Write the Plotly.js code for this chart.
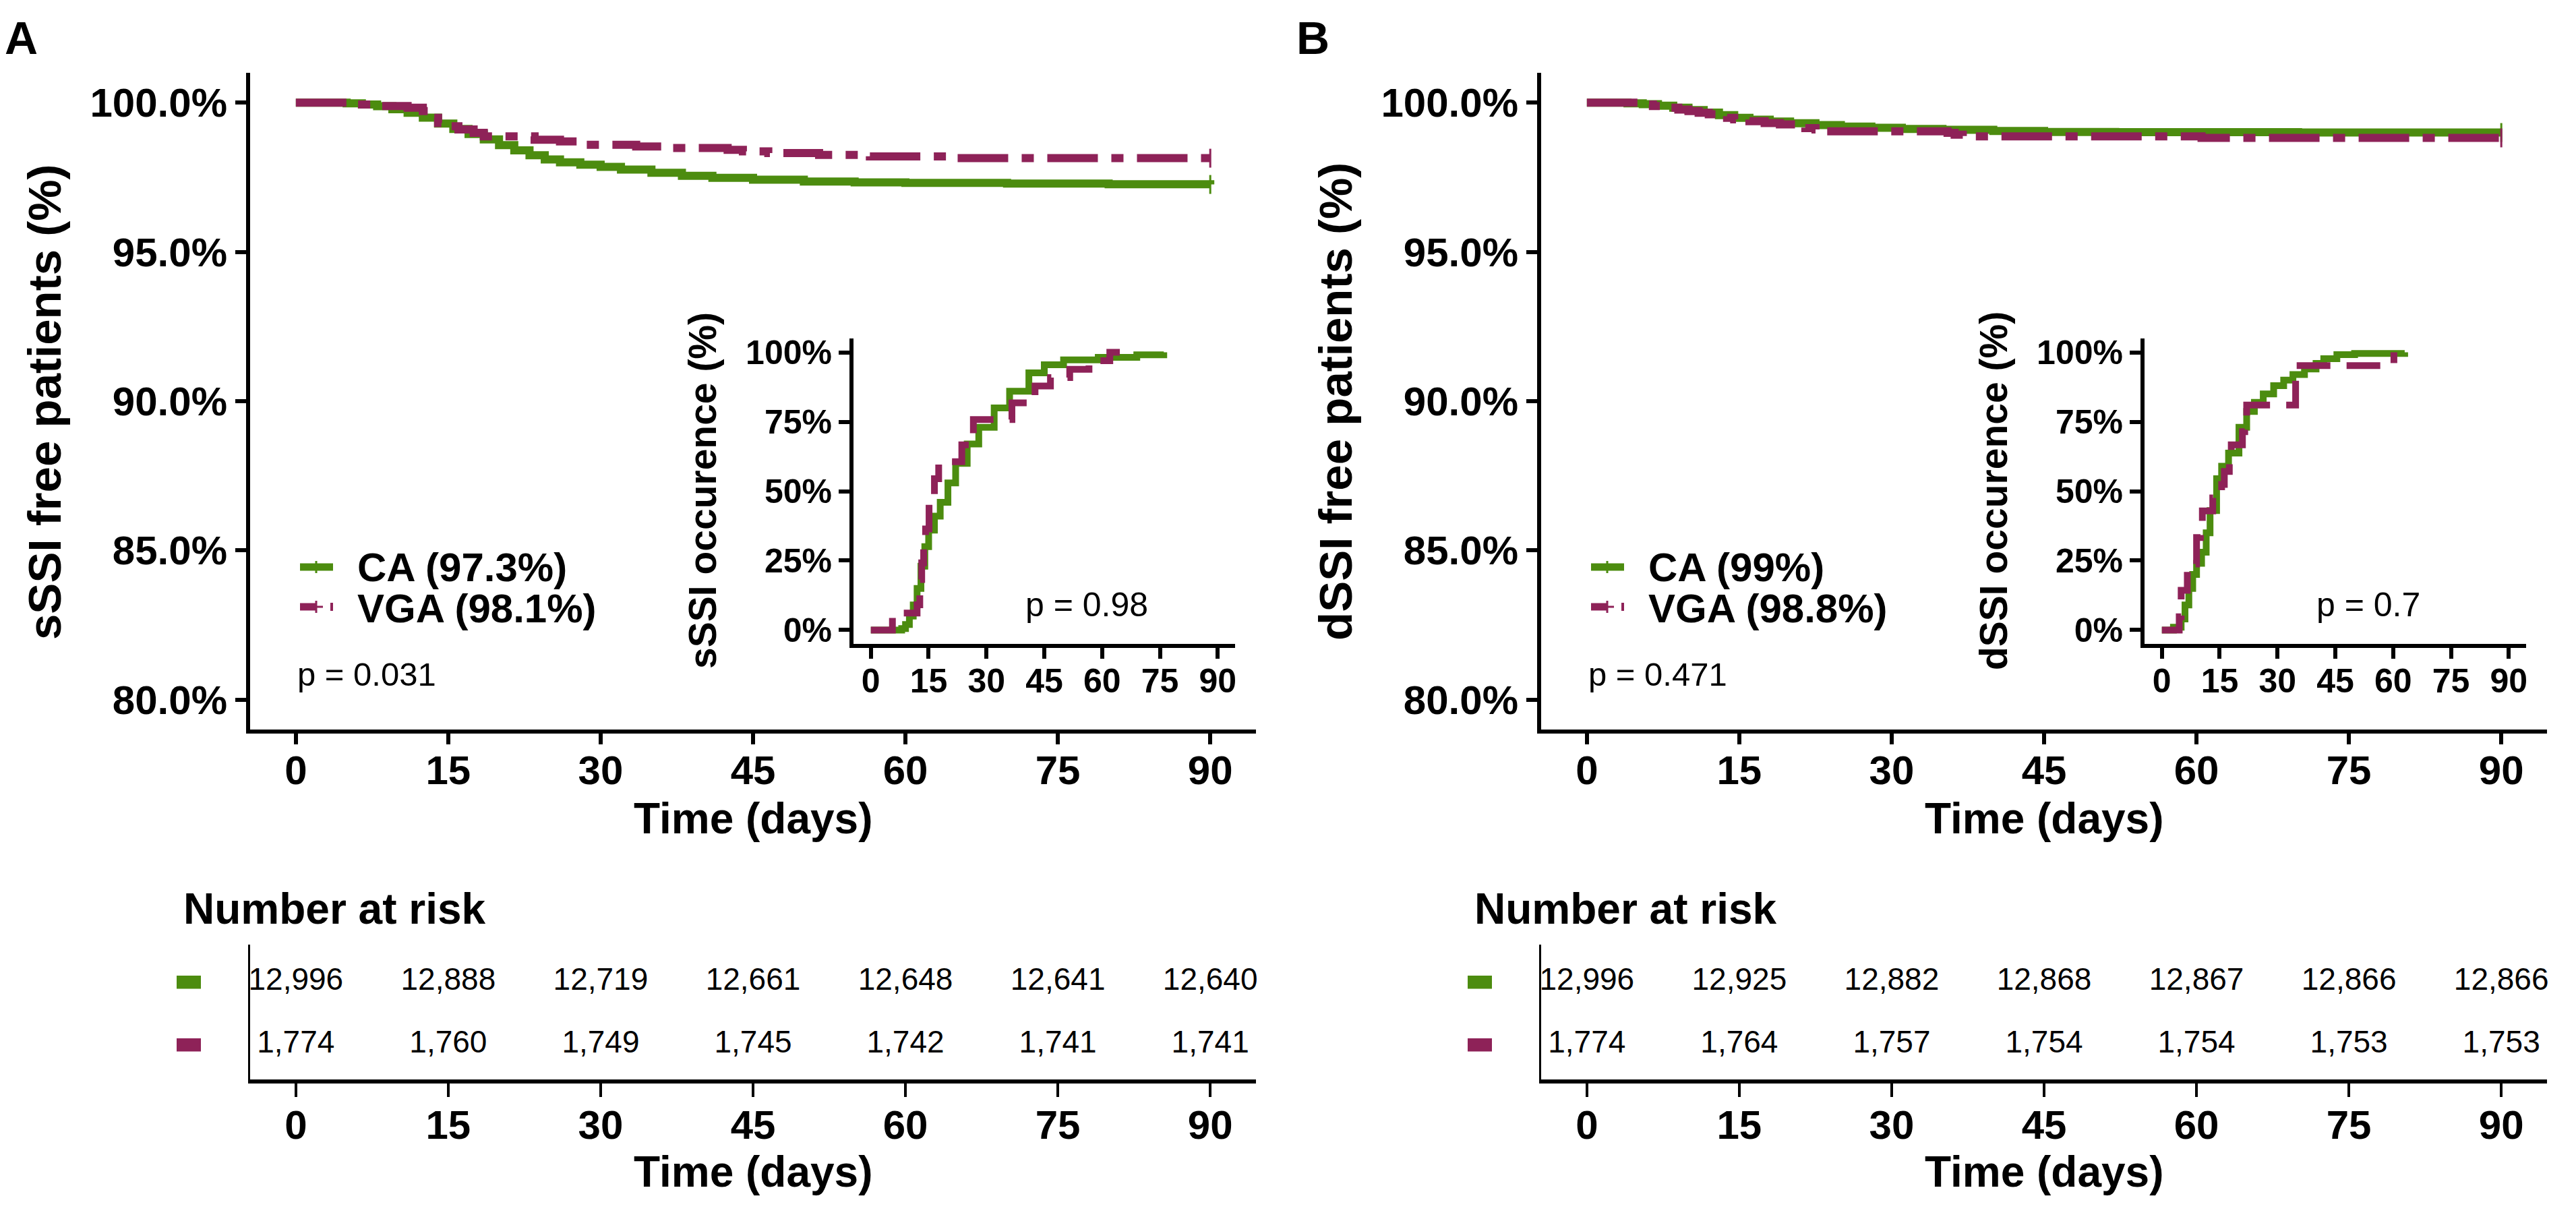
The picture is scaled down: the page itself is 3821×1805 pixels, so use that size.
<!DOCTYPE html>
<html><head><meta charset="utf-8">
<script src="https://cdn.plot.ly/plotly-3.0.1.min.js"></script>
<style>html,body{margin:0;padding:0;background:#fff;}#chart{width:3821px;height:1805px;}</style>
</head><body><div id="chart"></div>
<script>
// ---------------- data ----------------
const groups = ['CA', 'VGA'];
const dayTicks = [0, 15, 30, 45, 60, 75, 90];
const survTicks = [80, 85, 90, 95, 100];
const survTickText = ['80.0%', '85.0%', '90.0%', '95.0%', '100.0%'];
const occTicks = [0, 25, 50, 75, 100];
const occTickText = ['0%', '25%', '50%', '75%', '100%'];

// Number at risk
const riskA_CA  = [12996, 12888, 12719, 12661, 12648, 12641, 12640];
const riskA_VGA = [1774, 1760, 1749, 1745, 1742, 1741, 1741];
const riskB_CA  = [12996, 12925, 12882, 12868, 12867, 12866, 12866];
const riskB_VGA = [1774, 1764, 1757, 1754, 1754, 1753, 1753];

// Panel A main: sSSI free patients (%)
const tA_CA  = [0,5,6.5,8,9.5,11,12.5,14,15.5,17,18.5,20,21.5,23,24.5,26,28,30,32,35,38,41,45,50,55,60,70,80,90];
const sA_CA  = [100,99.98,99.94,99.88,99.78,99.66,99.5,99.3,99.12,98.95,98.77,98.58,98.4,98.24,98.1,98.0,97.92,97.85,97.76,97.65,97.55,97.48,97.42,97.36,97.33,97.31,97.29,97.27,97.26];
const tA_VGA = [0,5.5,8.5,11,12.5,13,13.5,14,14.8,16,17.5,18.5,23.5,26,28,33.5,36.5,42.5,44,46.5,51.5,56.5,64.5,90];
const sA_VGA = [100,99.94,99.89,99.83,99.72,99.61,99.49,99.32,99.21,99.10,98.99,98.87,98.76,98.70,98.59,98.53,98.48,98.42,98.37,98.31,98.25,98.20,98.14,98.14];

// Panel A inset: sSSI occurence (%)
const iA_CA_t  = [0,7,8,9,10,11,12,13,14,15,16.5,18,20,22,25,28,32,36,41,45,50,59,69,76];
const iA_CA_v  = [0,0,0.5,2,5,9,15,23,30,36,41,46,53,60,67,73,80,86,92.6,95.5,97.3,98.2,99.1,100];
const iA_VGA_t = [0,5.6,12,12.7,13.2,13.7,14.2,15.1,16.5,17.6,23.6,26.6,36.6,42.6,46.6,51.6,56.6,62,64.6];
const iA_VGA_v = [0,6.1,9.1,18.2,24.2,30.3,36.4,48.5,54.5,60.6,66.7,75.8,81.8,87.9,90.9,93.9,97.0,100,100];

// Panel B main: dSSI free patients (%)
const tB_CA  = [0,4,5.5,7,8.5,10,11.5,13,14.5,16,18,20,22.5,25,28,31,35,40,45,52,60,70,90];
const sB_CA  = [100,99.98,99.95,99.9,99.83,99.75,99.67,99.58,99.49,99.43,99.37,99.31,99.25,99.2,99.16,99.12,99.09,99.05,99.02,99.01,99.01,99.0,99.0];
const tB_VGA = [0,5,6.5,8,9,10,11,12,13,13.8,14.5,16,17.5,19,20.5,21.5,22.5,23.5,35.5,36.2,37,60.5,90];
const sB_VGA = [100,99.94,99.89,99.83,99.77,99.72,99.66,99.61,99.55,99.49,99.44,99.38,99.32,99.27,99.21,99.15,99.10,99.04,98.99,98.93,98.87,98.82,98.82];

// Panel B inset: dSSI occurence (%)
const iB_CA_t  = [0,3,5,6,7,8,9,10.3,11.5,12.5,14.2,15.5,17.3,20,22,24,26.3,29,31.6,34,37,40,42,45.4,50,63];
const iB_CA_v  = [0,1,4,9,15,20,24,28,35,43,54.5,59,63.7,73,78.7,82,85,88,90,92,94,96,97.7,99.2,99.6,100];
const iB_VGA_t = [0,4.5,5,6.6,9,10,10.5,13.2,15.5,16.2,17.5,18,20.9,21.5,22,34.7,60.2];
const iB_VGA_v = [0,4.8,14.3,23.8,33.3,38.1,42.9,47.6,52.4,57.1,61.9,66.7,71.4,76.2,81.0,95.2,100];

const legendA = ['CA (97.3%)', 'VGA (98.1%)'];
const legendB = ['CA (99%)', 'VGA (98.8%)'];
const pMain = ['p = 0.031', 'p = 0.471'];
const pInset = ['p = 0.98', 'p = 0.7'];

// ---------------- styling / layout ----------------
const W = 3821, H = 1805, DX = 1915;
const FONT = 'Liberation Sans, Arial, Helvetica, sans-serif';
const GREEN = '#4C8C0F', PURPLE = '#8E2258';
const COLORS = [GREEN, PURPLE];
const fx = px => px / W;
const fy = py => 1 - py / H;

const panels = [
  {letter: 'A', off: 0, ytitle: 'sSSI free patients (%)', itTitle: 'sSSI occurence (%)', legend: legendA,
   p: pMain[0], pi: pInset[0],
   main: [[tA_CA, sA_CA], [tA_VGA, sA_VGA]], inset: [[iA_CA_t, iA_CA_v], [iA_VGA_t, iA_VGA_v]],
   risk: [riskA_CA, riskA_VGA]},
  {letter: 'B', off: DX, ytitle: 'dSSI free patients (%)', itTitle: 'dSSI occurence (%)', legend: legendB,
   p: pMain[1], pi: pInset[1],
   main: [[tB_CA, sB_CA], [tB_VGA, sB_VGA]], inset: [[iB_CA_t, iB_CA_v], [iB_VGA_t, iB_VGA_v]],
   risk: [riskB_CA, riskB_VGA]}
];

const traces = [];
const layout = {
  width: W, height: H, margin: {l: 0, r: 0, t: 0, b: 0},
  paper_bgcolor: '#fff', plot_bgcolor: 'rgba(0,0,0,0)', showlegend: false,
  font: {family: FONT, color: '#000'},
  annotations: [], shapes: []
};

const bold = (size) => ({family: FONT, size: size, color: '#000', weight: 'bold'});
const plain = (size) => ({family: FONT, size: size, color: '#000'});

function axisBase(extra) {
  return Object.assign({
    showline: true, linecolor: '#000', linewidth: 6,
    ticks: 'outside', ticklen: 16, tickwidth: 6, tickcolor: '#000',
    showgrid: false, zeroline: false, fixedrange: true
  }, extra);
}

const MAIN_DASH = '75px,20px,18px,20px';
const INSET_DASH = '50px,24px';

panels.forEach((P, i) => {
  const o = P.off;
  const nMain = 1 + 3 * i, nIn = 2 + 3 * i, nTab = 3 + 3 * i;
  const id = n => (n === 1 ? '' : String(n));
  const xr = n => 'x' + id(n), yr = n => 'y' + id(n);

  // axes
  layout['xaxis' + id(nMain)] = axisBase({
    domain: [fx(371 + o), fx(1863 + o)], range: [-4.5, 94.5], anchor: yr(nMain),
    tickvals: dayTicks, ticktext: dayTicks.map(String), tickfont: bold(60), ticklabelstandoff: -13
  });
  layout['yaxis' + id(nMain)] = axisBase({
    domain: [fy(1082), fy(108)], range: [79, 101], anchor: xr(nMain),
    tickvals: survTicks, ticktext: survTickText, tickfont: bold(60)
  });
  layout['xaxis' + id(nIn)] = axisBase({
    domain: [fx(1266 + o), fx(1832 + o)], range: [-4.5, 94.5], anchor: yr(nIn),
    tickvals: dayTicks, ticktext: dayTicks.map(String), tickfont: bold(50), ticklabelstandoff: -10
  });
  layout['yaxis' + id(nIn)] = axisBase({
    domain: [fy(955), fy(502)], range: [-5, 105], anchor: xr(nIn),
    tickvals: occTicks, ticktext: occTickText, tickfont: bold(50)
  });
  layout['xaxis' + id(nTab)] = axisBase({
    domain: [fx(371 + o), fx(1863 + o)], range: [-4.5, 94.5], anchor: yr(nTab),
    tickvals: dayTicks, ticktext: dayTicks.map(String), tickfont: bold(60), ticklen: 20, tickwidth: 4,
    ticklabelstandoff: -10
  });
  layout['yaxis' + id(nTab)] = axisBase({
    domain: [fy(1601), fy(1401)], range: [-0.55, 1.6], anchor: xr(nTab),
    showticklabels: false, ticks: '', linewidth: 3
  });

  // main curves
  P.main.forEach((d, g) => {
    traces.push({
      type: 'scatter', mode: 'lines', x: d[0], y: d[1], xaxis: xr(nMain), yaxis: yr(nMain),
      line: {color: COLORS[g], width: 12, shape: 'hv', dash: g === 0 ? 'solid' : MAIN_DASH},
      name: groups[g], hoverinfo: 'skip', cliponaxis: false
    });
  });
  // censor marks at end
  P.main.forEach((d, g) => {
    traces.push({
      type: 'scatter', mode: 'markers', x: [d[0][d[0].length - 1]], y: [d[1][d[1].length - 1]],
      xaxis: xr(nMain), yaxis: yr(nMain),
      marker: {symbol: 'line-ns', size: 20, color: COLORS[g], line: {color: COLORS[g], width: 3}},
      hoverinfo: 'skip', cliponaxis: false
    });
  });
  // inset curves
  P.inset.forEach((d, g) => {
    traces.push({
      type: 'scatter', mode: 'lines', x: d[0], y: d[1], xaxis: xr(nIn), yaxis: yr(nIn),
      line: {color: COLORS[g], width: 10, shape: 'hv', dash: g === 0 ? 'solid' : INSET_DASH},
      name: groups[g], hoverinfo: 'skip', cliponaxis: false
    });
  });
  // risk table
  P.risk.forEach((vals, g) => {
    traces.push({
      type: 'scatter', mode: 'text', x: dayTicks, y: dayTicks.map(() => 1 - g),
      text: vals.map(v => v.toLocaleString('en-US')), textposition: 'middle center',
      textfont: plain(46), xaxis: xr(nTab), yaxis: yr(nTab), hoverinfo: 'skip', cliponaxis: false
    });
    layout.shapes.push({type: 'rect', xref: 'paper', yref: yr(nTab),
      x0: fx(262 + o), x1: fx(298 + o), y0: (1 - g) - 0.105, y1: (1 - g) + 0.105,
      fillcolor: COLORS[g], line: {width: 0}});
  });

  // texts
  const A = layout.annotations;
  const ann = (x, y, text, font, extra) => A.push(Object.assign({
    x: x, y: y, xref: 'paper', yref: 'paper', text: text, showarrow: false, font: font,
    xanchor: 'center', yanchor: 'middle'
  }, extra || {}));
  ann(fx(32 + o), fy(56), P.letter, bold(68));
  ann(fx(66 + o), fy(596), P.ytitle, bold(69), {textangle: -90});
  ann(fx(1117 + o), fy(1214), 'Time (days)', bold(64));
  ann(fx(1042 + o), fy(728), P.itTitle, bold(57), {textangle: -90});
  ann(fx(270 + o), fy(1348), 'Number at risk', bold(64), {xanchor: 'left'});
  ann(fx(1117 + o), fy(1738), 'Time (days)', bold(64));
  [841, 902].forEach((yy, g) => {
    ann(fx(528 + o), fy(yy), P.legend[g], bold(60), {xanchor: 'left'});
  });
  const S = layout.shapes;
  const seg = (x0, x1, y0, y1, col, w) => S.push({type: 'line', xref: 'paper', yref: 'paper',
    x0: fx(x0 + o), x1: fx(x1 + o), y0: fy(y0), y1: fy(y1), line: {color: col, width: w}});
  seg(445, 494, 841, 841, GREEN, 11);
  seg(469, 469, 832, 850, GREEN, 3);
  seg(445, 468, 900, 900, PURPLE, 11);
  seg(466, 479, 900, 900, PURPLE, 3);
  seg(469, 469, 891, 909, PURPLE, 3);
  seg(492, 492, 894, 906, PURPLE, 4);
  A.push({x: 0, y: 80.86, xref: xr(nMain), yref: yr(nMain), text: P.p, showarrow: false,
          font: plain(49), xanchor: 'left', yanchor: 'middle'});
  A.push({x: 39.8, y: 9.2, xref: xr(nIn), yref: yr(nIn), text: P.pi, showarrow: false,
          font: plain(50), xanchor: 'left', yanchor: 'middle'});
});

Plotly.newPlot('chart', traces, layout, {staticPlot: true, displayModeBar: false});
</script>
</body></html>
